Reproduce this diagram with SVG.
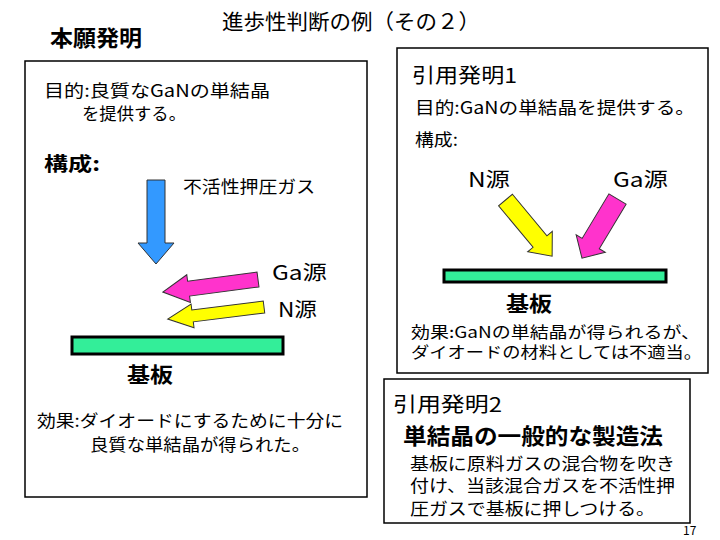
<svg xmlns="http://www.w3.org/2000/svg" width="720" height="540" viewBox="0 0 720 540">
<style>
text{font-family:"Noto Sans CJK JP","Noto Sans",sans-serif;fill:#000}
.b{font-weight:bold}
.box{fill:#fff;stroke:#000;stroke-width:1.5}
.sub{fill:#33ee99;stroke:#000;stroke-width:3}
.ar{stroke:#333;stroke-width:1}
</style>
<rect width="720" height="540" fill="#fff"/>
<g id="title"><text x="222" y="29" font-size="21" textLength="258" lengthAdjust="spacingAndGlyphs">進歩性判断の例（その２）</text></g>
<g id="honnan">
<text x="50" y="46" font-size="22" class="b" textLength="92" lengthAdjust="spacingAndGlyphs">本願発明</text>
<rect class="box" x="25" y="61" width="342" height="436"/>
<text x="44" y="97" font-size="17" textLength="226" lengthAdjust="spacingAndGlyphs">目的:良質なGaNの単結晶</text>
<text x="82" y="120" font-size="17" textLength="104" lengthAdjust="spacingAndGlyphs">を提供する。</text>
<text x="44" y="171" font-size="19" class="b" textLength="56" lengthAdjust="spacingAndGlyphs">構成:</text>
<text x="183" y="193" font-size="17" textLength="132" lengthAdjust="spacingAndGlyphs">不活性押圧ガス</text>
<text x="272" y="280" font-size="20" textLength="55" lengthAdjust="spacingAndGlyphs">Ga源</text>
<text x="278" y="317" font-size="20" textLength="39" lengthAdjust="spacingAndGlyphs">N源</text>
<rect class="sub" x="72" y="337" width="211" height="17"/>
<text x="127" y="382" font-size="21" class="b" textLength="46" lengthAdjust="spacingAndGlyphs">基板</text>
<text x="37" y="427" font-size="17" textLength="306" lengthAdjust="spacingAndGlyphs">効果:ダイオードにするために十分に</text>
<text x="90" y="451" font-size="17" textLength="220" lengthAdjust="spacingAndGlyphs">良質な単結晶が得られた。</text>
</g>
<g id="inyou1">
<rect class="box" x="397" y="48" width="311" height="325"/>
<text x="412" y="83" font-size="20" textLength="105" lengthAdjust="spacingAndGlyphs">引用発明1</text>
<text x="415" y="114" font-size="17" textLength="280" lengthAdjust="spacingAndGlyphs">目的:GaNの単結晶を提供する。</text>
<text x="415" y="146" font-size="17" textLength="43" lengthAdjust="spacingAndGlyphs">構成:</text>
<text x="468" y="187" font-size="20" textLength="42" lengthAdjust="spacingAndGlyphs">N源</text>
<text x="613" y="187" font-size="20" textLength="55" lengthAdjust="spacingAndGlyphs">Ga源</text>
<rect class="sub" x="444" y="270" width="222" height="12"/>
<text x="506" y="311" font-size="21" class="b" textLength="46" lengthAdjust="spacingAndGlyphs">基板</text>
<text x="411" y="338" font-size="15.5" textLength="289" lengthAdjust="spacingAndGlyphs">効果:GaNの単結晶が得られるが、</text>
<text x="411" y="358" font-size="15.5" textLength="291" lengthAdjust="spacingAndGlyphs">ダイオードの材料としては不適当。</text>
</g>
<g id="inyou2">
<rect class="box" x="384" y="379" width="306" height="144"/>
<text x="393" y="412" font-size="20" textLength="109" lengthAdjust="spacingAndGlyphs">引用発明2</text>
<text x="403" y="444" font-size="22" class="b" textLength="260" lengthAdjust="spacingAndGlyphs">単結晶の一般的な製造法</text>
<text x="410" y="470" font-size="16.5" textLength="265" lengthAdjust="spacingAndGlyphs">基板に原料ガスの混合物を吹き</text>
<text x="410" y="492" font-size="16.5" textLength="265" lengthAdjust="spacingAndGlyphs">付け、当該混合ガスを不活性押</text>
<text x="410" y="515" font-size="16.5" textLength="245" lengthAdjust="spacingAndGlyphs">圧ガスで基板に押しつける。</text>
</g>
<g id="page"><text x="683" y="535" font-size="12">17</text></g>
<g id="arrows">
<polygon class="ar" fill="#3399ff" stroke="#1f4f9f" points="147,180 165,180 165,243 174,243 156,264 138,243 147,243"/>
<polygon class="ar" fill="#ff33cc" transform="translate(258,279.5) rotate(172.5)" points="0,-7.5 70,-7.5 70,-14 96,0 70,14 70,7.5 0,7.5"/>
<polygon class="ar" fill="#ffff00" transform="translate(264,307) rotate(172.9)" points="0,-6 72,-6 72,-12 97,0 72,12 72,6 0,6"/>
<polygon class="ar" fill="#ffff00" transform="translate(505.5,200) rotate(50.3)" points="0,-9 54,-9 54,-16 73,0 54,16 54,9 0,9"/>
<polygon class="ar" fill="#ff33cc" transform="translate(617.5,199) rotate(121)" points="0,-10 52,-10 52,-17 69,0 52,17 52,10 0,10"/>
</g>
</svg>
